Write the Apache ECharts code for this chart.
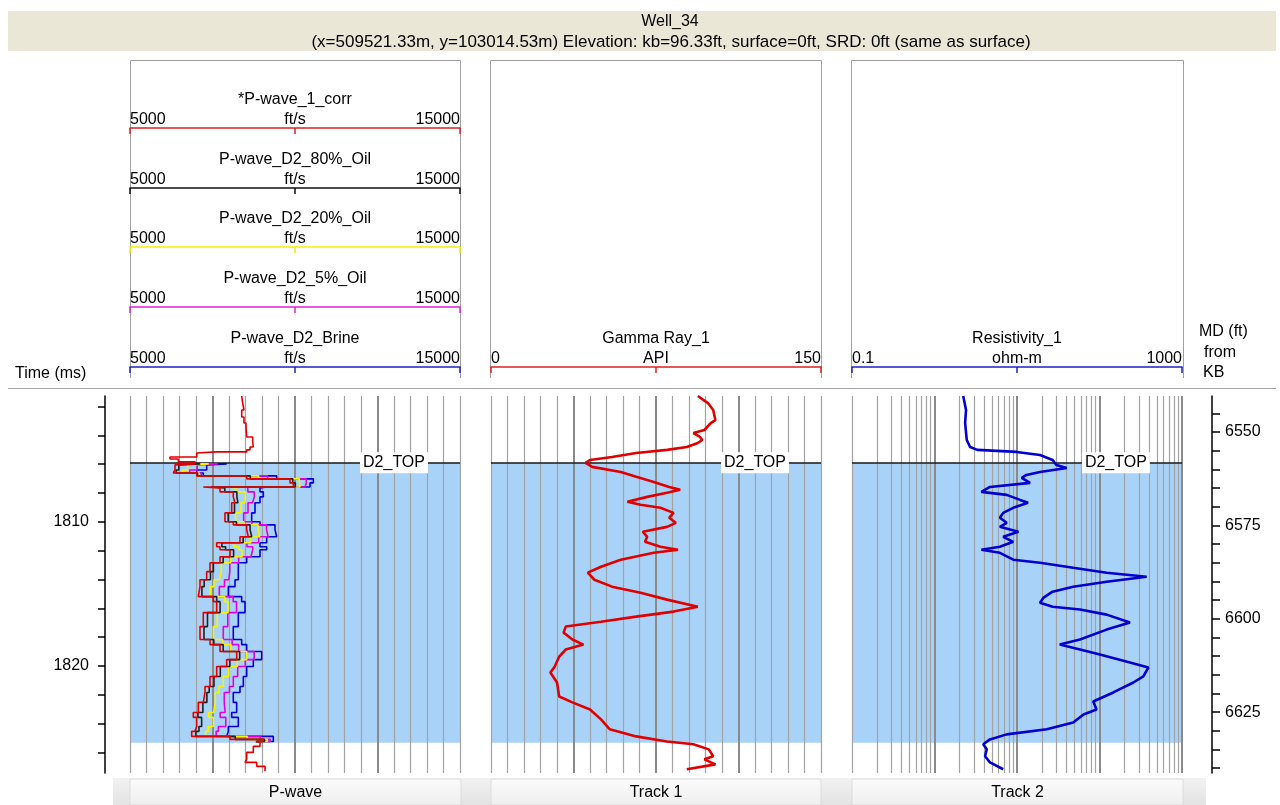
<!DOCTYPE html>
<html>
<head>
<meta charset="utf-8">
<title>Well_34</title>
<script src="https://cdn.jsdelivr.net/npm/echarts@6/dist/echarts.min.js"></script>
<style>
html, body { margin: 0; padding: 0; background: #fff; }
#main { width: 1280px; height: 805px; }
</style>
</head>
<body>
<div id="main"></div>
<script>
var FONT = 'Liberation Sans';

// 时间轴 / 深度轴范围
var timeMin = 1801.27, timeMax = 1827.43;
var mdMin = 6540.36, mdMax = 6641.3;
var d2Top = 1805.91, d2Base = 1825.33;

var timeTicks = [1802, 1804, 1806, 1808, 1810, 1812, 1814, 1816, 1818, 1820, 1822, 1824, 1826];
var timeLabels = [1810, 1820];
var mdTicks = [6540, 6545, 6550, 6555, 6560, 6565, 6570, 6575, 6580, 6585, 6590, 6595, 6600, 6605, 6610, 6615, 6620, 6625, 6630, 6635, 6640];
var mdLabels = [6550, 6575, 6600, 6625];

// P-wave 曲线 (ft/s)
var pwCorrTime = [1801.27, 1801.76, 1802.24, 1802.73, 1803.14, 1803.42, 1804.11, 1804.46, 1804.81, 1805.01, 1805.15, 1805.22, 1805.50, 1805.64, 1805.84,
  1805.98, 1806.05, 1806.40, 1806.61, 1806.81, 1807.02, 1807.30, 1807.58, 1807.65, 1807.92, 1808.27, 1808.68, 1809.38, 1810.00, 1810.21, 1810.55,
  1811.04, 1811.45, 1811.73, 1811.94, 1812.42, 1812.84, 1813.46, 1814.02, 1814.50, 1815.19, 1815.54, 1816.30, 1817.27, 1818.17, 1818.52, 1819.00,
  1819.56, 1820.04, 1820.73, 1821.43, 1821.84, 1822.53, 1823.23, 1823.57, 1824.20, 1824.54, 1824.89, 1825.10, 1825.24,
  1825.31, 1825.58, 1826.00, 1826.48, 1826.69, 1826.97, 1827.31];
var pwCorr = [8385, 8414, 8454, 8385, 8454, 8515, 8536, 8718, 8736, 8636, 8536, 7627, 7021, 6212, 6464,
  6970, 7021, 6364, 6312, 7021, 8536, 9848, 9950, 7221, 7727, 8130, 8180, 8082, 7878, 8130, 8536,
  8586, 8333, 7627, 7727, 8030, 7727, 7424, 7323, 7121, 7070, 7524, 7627, 7221, 7121, 7424, 7727,
  8233, 7929, 7627, 7424, 7273, 7221, 7070, 6918, 7020, 6970, 6869, 8030, 9040,
  8839, 8939, 8737, 8536, 8485, 8839, 9091];

var zoneTime = [1805.98, 1806.05, 1806.40, 1806.61, 1806.81, 1807.02, 1807.30, 1807.58, 1807.65, 1807.92, 1808.27, 1808.68, 1809.38, 1810.00, 1810.21, 1810.55,
  1811.04, 1811.45, 1811.73, 1811.94, 1812.42, 1812.84, 1813.46, 1814.02, 1814.50, 1815.19, 1815.54, 1816.30, 1817.27, 1818.17, 1818.52, 1819.00,
  1819.56, 1820.04, 1820.73, 1821.43, 1821.84, 1822.53, 1823.23, 1823.57, 1824.20, 1824.54, 1824.89, 1825.10, 1825.24, 1825.31];
var pw80Oil = [6986, 7130, 6479, 6397, 7045, 8645, 9933, 10010, 7452, 7872, 8239, 8271, 8167, 7975, 8227, 8639,
  8689, 8430, 7784, 7897, 8139, 7824, 7527, 7438, 7248, 7179, 7627, 7730, 7348, 7242, 7539, 7824,
  8324, 8026, 7736, 7545, 7400, 7330, 7209, 7058, 7171, 7091, 6996, 8188, 9076, 8839];
var pw20Oil = [7022, 7385, 6748, 6596, 7101, 8900, 10131, 10152, 7989, 8212, 8494, 8484, 8364, 8202, 8454, 8879,
  8930, 8657, 8152, 8293, 8394, 8051, 7767, 7707, 7545, 7434, 7868, 7970, 7645, 7525, 7808, 8051,
  8536, 8252, 7991, 7828, 7697, 7585, 7535, 7383, 7525, 7374, 7293, 8555, 9161, 8839];
var pw5Oil = [7061, 7657, 7036, 6808, 7161, 9172, 10343, 10303, 8566, 8575, 8767, 8711, 8576, 8444, 8696, 9137,
  9187, 8899, 8545, 8718, 8666, 8293, 8025, 7994, 7864, 7707, 8126, 8228, 7964, 7827, 8096, 8293,
  8763, 8495, 8263, 8131, 8015, 7857, 7883, 7732, 7903, 7677, 7612, 8949, 9252, 8839];
var pwBrine = [7100, 7930, 7324, 7021, 7221, 9445, 10555, 10454, 9142, 8939, 9040, 8939, 8788, 8687, 8939, 9394,
  9445, 9142, 8939, 9142, 8939, 8536, 8282, 8282, 8182, 7980, 8384, 8485, 8282, 8130, 8384, 8536,
  8990, 8737, 8536, 8434, 8333, 8130, 8232, 8081, 8282, 7980, 7930, 9343, 9343, 8839];

// Gamma Ray (API)
var grTime = [1801.27, 1801.76, 1802.24, 1802.94, 1803.14, 1803.63, 1803.84, 1804.11, 1804.32, 1804.53, 1804.81, 1805.01, 1805.22, 1805.50, 1805.71,
  1805.91, 1806.19, 1806.54, 1806.88, 1807.23, 1807.58, 1807.78, 1807.99, 1808.27, 1808.61, 1808.82, 1809.03, 1809.38, 1809.72, 1810.07,
  1810.35, 1810.69, 1811.04, 1811.39, 1811.73, 1811.94, 1812.15, 1812.63, 1813.12, 1813.53, 1814.02, 1814.50, 1814.92, 1815.40, 1815.89,
  1816.23, 1816.58, 1816.93, 1817.27, 1817.69, 1818.17, 1818.52, 1818.86, 1819.35, 1820.04, 1820.46, 1821.15, 1822.12, 1822.53, 1823.02,
  1823.71, 1824.40, 1824.89, 1825.24, 1825.44, 1825.79, 1826.27, 1826.48, 1826.83, 1827.17];
var grValue = [94, 98.6, 101, 102, 100, 97, 92, 95, 96, 94, 89, 80, 66, 55, 45,
  43, 46, 59, 66, 74, 81, 86, 80, 71, 62, 68, 77, 83, 81, 84,
  80, 69, 71, 70, 77, 85, 74, 59, 50, 44, 47, 55, 68, 80, 94,
  83, 66, 50, 34, 33, 37, 42, 34, 31, 29, 27, 30, 31, 37, 45,
  50, 54, 66, 80, 92, 99, 101, 97, 102, 89];

// Resistivity (ohm-m)
var resTime = [1801.27, 1802.24, 1803.14, 1804.32, 1804.81, 1805.01, 1805.15, 1805.36, 1805.71, 1806.05, 1806.26, 1806.54, 1806.75, 1806.95, 1807.30,
  1807.58, 1807.92, 1808.13, 1808.48, 1808.68, 1809.03, 1809.38, 1809.72, 1810.07, 1810.35, 1810.69, 1811.04, 1811.39, 1811.73, 1811.94,
  1812.15, 1812.63, 1812.84, 1813.19, 1813.53, 1813.81, 1814.16, 1814.50, 1814.85, 1815.26, 1815.61, 1815.89, 1816.09, 1816.44, 1816.99,
  1817.48, 1818.17, 1818.52, 1818.86, 1819.21, 1819.76, 1820.11, 1820.73, 1821.15, 1821.84, 1822.47, 1823.02, 1823.37, 1823.92, 1824.40,
  1824.75, 1825.10, 1825.44, 1825.79, 1826.27, 1826.69, 1827.17];
var resValue = [2.23, 2.41, 2.35, 2.46, 2.7, 3.3, 9.9, 19, 27, 30, 40, 19, 13, 11.4, 14.4,
  4.7, 3.7, 7.5, 10.9, 13.6, 9, 6.8, 6.2, 7.5, 6.2, 10.4, 6.8, 9, 6.2, 3.7,
  6.2, 9, 19, 48, 122, 373, 122, 48, 27, 21, 19, 27, 58, 122, 234,
  122, 58, 33, 58, 101, 234, 391, 340, 257, 147, 84, 92, 64, 48, 23,
  7.5, 4.7, 3.9, 4.3, 4.1, 4.7, 6.8];

function pairs(vals, times) {
  return vals.map(function (v, i) { return [v, times[i]]; });
}

// 网格线
var thin = { color: '#a2a2a2', width: 1.2, type: 'solid' };
var thick = { color: '#8a8a8a', width: 2, type: 'solid' };
function linGrid(min, step) {
  var out = [];
  for (var i = 0; i <= 20; i++) {
    out.push({ xAxis: min + step * i, lineStyle: (i % 5 === 0 && i > 0 && i < 20) ? thick : thin });
  }
  return out;
}
function logGrid() {
  var out = [];
  for (var d = -1; d <= 2; d++) {
    for (var k = 1; k <= 9; k++) {
      out.push({ xAxis: +(k * Math.pow(10, d)).toPrecision(3), lineStyle: (k === 1 && d > -1) ? thick : thin });
    }
  }
  out.push({ xAxis: 1000, lineStyle: thick });
  return out;
}

var tracks = [
  { left: 130, xAxis: 4, yAxis: 0, lines: linGrid(5000, 500), labelX: 13000 },
  { left: 491, xAxis: 5, yAxis: 1, lines: linGrid(0, 7.5), labelX: 120 },
  { left: 852, xAxis: 6, yAxis: 2, lines: logGrid(), labelX: 158 }
];

function headerAxis(o) {
  return {
    type: o.type || 'value', gridIndex: o.grid, position: 'top', offset: o.offset,
    min: o.min, max: o.max, logBase: 10,
    name: o.name + '\n' + o.unit, nameLocation: 'middle', nameGap: -2, nameMoveOverlap: false,
    nameTextStyle: { fontFamily: FONT, fontSize: 16, color: '#000', lineHeight: 20 },
    axisLine: { show: true, lineStyle: { color: o.color, width: 1.5 } },
    axisTick: { show: true, inside: true, length: 6, customValues: [o.min, o.mid, o.max], lineStyle: { color: o.color, width: 1.5 } },
    axisLabel: {
      show: true, customValues: [o.min, o.max], margin: 0, alignMinLabel: 'left', alignMaxLabel: 'right',
      fontFamily: FONT, fontSize: 16, color: '#000', formatter: function (v) { return String(v); }
    },
    splitLine: { show: false }
  };
}

var xAxes = [
  headerAxis({ grid: 0, offset: 268, name: '*P-wave_1_corr', unit: 'ft/s', color: '#e02020', min: 5000, mid: 10000, max: 15000 }),
  headerAxis({ grid: 0, offset: 208, name: 'P-wave_D2_80%_Oil', unit: 'ft/s', color: '#111111', min: 5000, mid: 10000, max: 15000 }),
  headerAxis({ grid: 0, offset: 149, name: 'P-wave_D2_20%_Oil', unit: 'ft/s', color: '#f2f200', min: 5000, mid: 10000, max: 15000 }),
  headerAxis({ grid: 0, offset: 89, name: 'P-wave_D2_5%_Oil', unit: 'ft/s', color: '#e020e0', min: 5000, mid: 10000, max: 15000 }),
  headerAxis({ grid: 0, offset: 29, name: 'P-wave_D2_Brine', unit: 'ft/s', color: '#2020c0', min: 5000, mid: 10000, max: 15000 }),
  headerAxis({ grid: 1, offset: 29, name: 'Gamma Ray_1', unit: 'API', color: '#e02020', min: 0, mid: 75, max: 150 }),
  headerAxis({ grid: 2, offset: 29, name: 'Resistivity_1', unit: 'ohm-m', color: '#2020c0', min: 0.1, mid: 10, max: 1000, type: 'log' })
];

function timeAxis(grid, show) {
  return {
    type: 'value', gridIndex: grid, inverse: true, min: timeMin, max: timeMax,
    position: 'left', offset: 25, show: show,
    axisLine: { show: true, lineStyle: { color: '#000', width: 1.5 } },
    axisTick: { show: true, length: 7, customValues: timeTicks, lineStyle: { color: '#000', width: 1.5 } },
    axisLabel: { customValues: timeLabels, margin: 16, fontFamily: FONT, fontSize: 16, color: '#000', formatter: function (v) { return String(v); } },
    splitLine: { show: false }
  };
}

var yAxes = [
  timeAxis(0, true), timeAxis(1, false), timeAxis(2, false),
  {
    type: 'value', gridIndex: 2, inverse: true, min: mdMin, max: mdMax,
    position: 'right', offset: 30,
    axisLine: { show: true, lineStyle: { color: '#000', width: 1.5 } },
    axisTick: { show: true, length: 8, customValues: mdTicks, lineStyle: { color: '#000', width: 1.5 } },
    axisLabel: { customValues: mdLabels, margin: 13, fontFamily: FONT, fontSize: 16, color: '#000', formatter: function (v) { return String(v); } },
    splitLine: { show: false }
  }
];

var series = [];
tracks.forEach(function (t) {
  // 背景: 蓝色层段 + 网格线
  series.push({
    type: 'line', xAxisIndex: t.xAxis, yAxisIndex: t.yAxis, data: [], silent: true,
    markArea: { silent: true, z: 1, itemStyle: { color: '#a9d2f8' }, data: [[{ yAxis: d2Top }, { yAxis: d2Base }]] },
    markLine: { silent: true, z: 2, symbol: ['none', 'none'], label: { show: false }, lineStyle: { type: 'solid' }, emphasis: { disabled: true }, data: t.lines }
  });
  // D2_TOP 层位线
  series.push({
    type: 'line', xAxisIndex: t.xAxis, yAxisIndex: t.yAxis, data: [], silent: true,
    markLine: {
      silent: true, z: 3, symbol: ['none', 'none'], label: { show: false }, emphasis: { disabled: true },
      lineStyle: { color: '#1a1a1a', width: 1.5, type: 'solid' }, data: [{ yAxis: d2Top }]
    },
    markPoint: {
      silent: true, z: 6, symbol: 'rect', symbolSize: 1, itemStyle: { color: 'rgba(0,0,0,0)' },
      label: { show: true, position: 'inside', formatter: 'D2_TOP', backgroundColor: '#fff', padding: [3, 3, 2, 3], color: '#000', fontFamily: FONT, fontSize: 16 },
      data: [{ coord: [t.labelX, d2Top] }]
    }
  });
});

function curve(name, xi, yi, data, color, width, step) {
  return {
    type: 'line', name: name, xAxisIndex: xi, yAxisIndex: yi, data: data, step: step || false,
    symbol: 'none', showSymbol: false, z: 4, silent: true,
    lineStyle: { color: color, width: width }
  };
}
series.push(curve('P-wave_D2_Brine', 4, 0, pairs(pwBrine, zoneTime), '#0000d8', 1.6, 'end'));
series.push(curve('P-wave_D2_5%_Oil', 3, 0, pairs(pw5Oil, zoneTime), '#e000e0', 1.6, 'end'));
series.push(curve('P-wave_D2_20%_Oil', 2, 0, pairs(pw20Oil, zoneTime), '#f5f500', 1.6, 'end'));
series.push(curve('P-wave_D2_80%_Oil', 1, 0, pairs(pw80Oil, zoneTime), '#202020', 1.6, 'end'));
series.push(curve('*P-wave_1_corr', 0, 0, pairs(pwCorr, pwCorrTime), '#e00000', 1.6, 'end'));
series.push(curve('Gamma Ray_1', 5, 1, pairs(grValue, grTime), '#e00000', 2.6));
series.push(curve('Resistivity_1', 6, 2, pairs(resValue, resTime), '#0000d0', 2.6));

var hdrStroke = { stroke: '#a0a0a0', lineWidth: 1, fill: null };
function box(x1, x2) {
  return { type: 'polyline', shape: { points: [[x1, 378], [x1, 60.5], [x2, 60.5], [x2, 378]] }, style: hdrStroke, silent: true };
}
function txt(x, y, s, align, size) {
  return { type: 'text', x: x, y: y, silent: true, style: { text: s, fill: '#000', font: (size || 16) + 'px "' + FONT + '"', align: align || 'center', verticalAlign: 'middle' } };
}
function tab(x1, x2, label) {
  return [
    { type: 'rect', silent: true, shape: { x: x1, y: 779, width: x2 - x1, height: 26 },
      style: { fill: new echarts.graphic.LinearGradient(0, 0, 0, 1, [{ offset: 0, color: '#fbfbfb' }, { offset: 1, color: '#eeeeee' }]), stroke: '#dcdcdc', lineWidth: 1 } },
    txt((x1 + x2) / 2, 793, label)
  ];
}

var graphics = [
  { type: 'rect', silent: true, shape: { x: 8, y: 11, width: 1268, height: 40 }, style: { fill: '#ebe7d7' } },
  txt(670, 22, 'Well_34'),
  txt(671, 42, '(x=509521.33m, y=103014.53m) Elevation: kb=96.33ft, surface=0ft, SRD: 0ft (same as surface)', 'center', 17),
  box(130.5, 460.5), box(490.5, 821.5), box(851.5, 1183.5),
  { type: 'line', silent: true, shape: { x1: 8, y1: 388.5, x2: 1276, y2: 388.5 }, style: { stroke: '#a8a8a8', lineWidth: 1 } },
  txt(15, 374, 'Time (ms)', 'left'),
  txt(1199, 332, 'MD (ft)', 'left'),
  txt(1204, 353, 'from', 'left'),
  txt(1203, 373, 'KB', 'left'),
  { type: 'rect', silent: true, shape: { x: 113, y: 778, width: 1093, height: 27 },
    style: { fill: new echarts.graphic.LinearGradient(0, 0, 0, 1, [{ offset: 0, color: '#f2f2f2' }, { offset: 1, color: '#e3e3e3' }]) } }
].concat(tab(130, 461, 'P-wave'), tab(491, 821, 'Track 1'), tab(852, 1183, 'Track 2'));

var myChart = echarts.init(document.getElementById('main'));

var option = {
  animation: false,
  backgroundColor: '#fff',
  textStyle: { fontFamily: FONT },
  grid: tracks.map(function (t) {
    return { left: t.left, width: 330, top: 396, height: 377, containLabel: false, outerBoundsMode: 'none' };
  }),
  xAxis: xAxes,
  yAxis: yAxes,
  series: series,
  graphic: graphics
};

myChart.setOption(option);
</script>
</body>
</html>
